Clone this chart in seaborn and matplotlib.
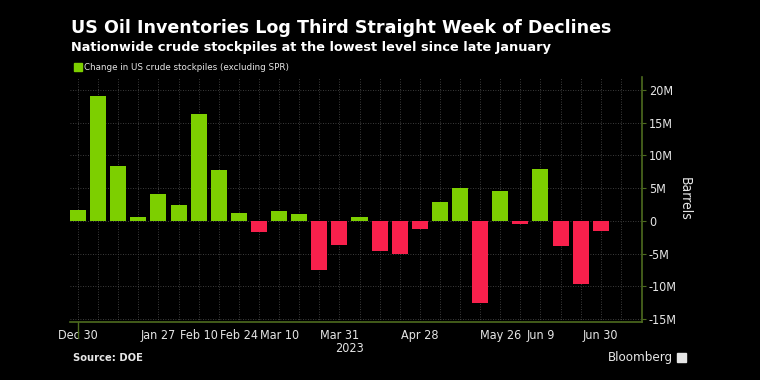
import numpy as np
import pandas as pd
import matplotlib
matplotlib.use("Agg")
import matplotlib.pyplot as plt
import seaborn as sns

# Weekly change in US crude stockpiles (excluding SPR), million barrels

weeks = [
    "Dec 30", "Jan 6", "Jan 13", "Jan 20", "Jan 27", "Feb 3", "Feb 10",
    "Feb 17", "Feb 24", "Mar 3", "Mar 10", "Mar 17", "Mar 24", "Mar 31",
    "Apr 7", "Apr 14", "Apr 21", "Apr 28", "May 5", "May 12", "May 19",
    "May 26", "Jun 2", "Jun 9", "Jun 16", "Jun 23", "Jun 30"
]

change = [
    1.7, 19.0, 8.4, 0.6, 4.1, 2.4, 16.3,
    7.7, 1.2, -1.7, 1.5, 1.1, -7.5, -3.7,
    0.6, -4.6, -5.1, -1.3, 2.9, 5.1, -12.5,
    4.5, -0.45, 8.0, -3.8, -9.6, -1.5
]

tick_labels = [
    "Dec 30", "Jan 27", "Feb 10", "Feb 24", "Mar 10",
    "Mar 31", "Apr 28", "May 26", "Jun 9", "Jun 30"
]

y_ticks = [-15, -10, -5, 0, 5, 10, 15, 20]
y_tick_labels = ["-15M", "-10M", "-5M", "0", "5M", "10M", "15M", "20M"]

GREEN = "#7dcf00"
RED = "#f8204c"
AXIS_COLOR = "#4d6b1f"
GRID_COLOR = "#505050"
TEXT_COLOR = "#e6e6e6"

df = pd.DataFrame({"week": weeks, "change": change})
df["sign"] = np.where(df["change"] >= 0, "up", "down")

sns.set_style("dark")
plt.rcParams["font.family"] = ["DejaVu Sans"]

fig = plt.figure(figsize=(7.6, 3.8), dpi=100, facecolor="black")
ax = fig.add_axes([0.0921, 0.153, 0.7526, 0.645])
ax.set_facecolor("black")

# Vertical gridlines at every week, horizontal at every 5M
for i in range(len(weeks) + 1):
    ax.axvline(i, color=GRID_COLOR, lw=0.6, ls=(0, (1, 2)), zorder=0)
for t in y_ticks:
    ax.axhline(t, color=GRID_COLOR, lw=0.6, ls=(0, (1, 2)), zorder=0)

sns.barplot(
    data=df,
    x="week",
    y="change",
    hue="sign",
    palette={"up": GREEN, "down": RED},
    order=weeks,
    dodge=False,
    width=0.8,
    saturation=1,
    legend=False,
    linewidth=0,
    ax=ax,
    zorder=2
)

ax.set_xlim(-0.4, 28.05)
ax.set_ylim(-15.4, 22.0)
ax.grid(False)

tick_font = dict(family="DejaVu Sans", stretch="condensed", size=9)

# X axis
ax.set_xticks([weeks.index(w) for w in tick_labels])
ax.set_xticklabels(tick_labels, color=TEXT_COLOR, **tick_font)
ax.set_xticks(range(len(weeks) + 1), minor=True)
ax.tick_params(axis="x", which="both", length=3, color=AXIS_COLOR, pad=2)
ax.set_xlabel("")

# Right y axis
ax.yaxis.tick_right()
ax.yaxis.set_label_position("right")
ax.set_yticks(y_ticks)
ax.set_yticklabels(y_tick_labels, color=TEXT_COLOR, **tick_font)
ax.tick_params(axis="y", length=3, color=AXIS_COLOR, pad=2)
ax.set_ylabel("Barrels", color=TEXT_COLOR, rotation=270, labelpad=11,
              family="DejaVu Sans", stretch="condensed", size=10)

for side in ["top", "left"]:
    ax.spines[side].set_visible(False)
for side in ["bottom", "right"]:
    ax.spines[side].set_color(AXIS_COLOR)
    ax.spines[side].set_linewidth(1.2)

# Year marker
ax.plot([0, 0], [-15.4, -17.8], color=AXIS_COLOR, lw=1, clip_on=False)
ax.text(13.5, -19.4, "2023", color=TEXT_COLOR, ha="center", va="center",
        **tick_font)

# Titles and annotations
fig.text(0.093, 0.926, "US Oil Inventories Log Third Straight Week of Declines",
         color="white", fontsize=12.6, fontweight="bold", va="center")
fig.text(0.093, 0.876, "Nationwide crude stockpiles at the lowest level since late January",
         color="white", fontsize=9.3, fontweight="bold", va="center")

fig.patches.append(plt.Rectangle((0.0975, 0.813), 0.0105, 0.021,
                                 transform=fig.transFigure, color=GREEN))
fig.text(0.110, 0.823, "Change in US crude stockpiles (excluding SPR)",
         color=TEXT_COLOR, fontsize=6.3, va="center")

fig.text(0.096, 0.058, "Source: DOE", color=TEXT_COLOR, fontsize=7.2,
         fontweight="bold", va="center")
fig.text(0.886, 0.058, "Bloomberg", color=TEXT_COLOR, fontsize=9.5,
         ha="right", va="center", stretch="condensed")
fig.patches.append(plt.Rectangle((0.891, 0.047), 0.011, 0.024,
                                 transform=fig.transFigure, color=TEXT_COLOR))

fig.savefig("out.png", dpi=100, facecolor="black")
